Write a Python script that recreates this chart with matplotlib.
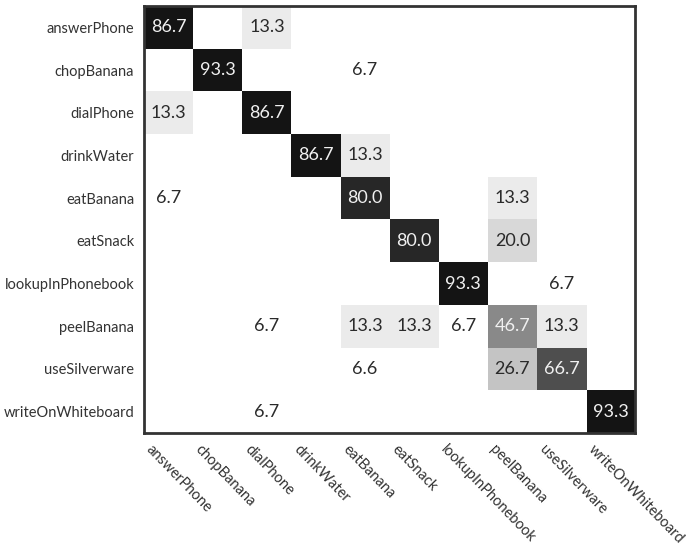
import numpy as np
import matplotlib.pyplot as plt
from matplotlib.colors import Normalize, LinearSegmentedColormap
from matplotlib.transforms import ScaledTranslation

# Activity classes (rows = true, columns = predicted)
classes = ['answerPhone', 'chopBanana', 'dialPhone', 'drinkWater', 'eatBanana',
           'eatSnack', 'lookupInPhonebook', 'peelBanana', 'useSilverware',
           'writeOnWhiteboard']

# Per-class recognition rates in percent, one list per true class
answer_phone = [86.7, 0, 13.3, 0, 0, 0, 0, 0, 0, 0]
chop_banana = [0, 93.3, 0, 0, 6.7, 0, 0, 0, 0, 0]
dial_phone = [13.3, 0, 86.7, 0, 0, 0, 0, 0, 0, 0]
drink_water = [0, 0, 0, 86.7, 13.3, 0, 0, 0, 0, 0]
eat_banana = [6.7, 0, 0, 0, 80.0, 0, 0, 13.3, 0, 0]
eat_snack = [0, 0, 0, 0, 0, 80.0, 0, 20.0, 0, 0]
lookup_phonebook = [0, 0, 0, 0, 0, 0, 93.3, 0, 6.7, 0]
peel_banana = [0, 0, 6.7, 0, 13.3, 13.3, 6.7, 46.7, 13.3, 0]
use_silverware = [0, 0, 0, 0, 6.6, 0, 0, 26.7, 66.7, 0]
write_whiteboard = [0, 0, 6.7, 0, 0, 0, 0, 0, 0, 93.3]

conf = np.array([answer_phone, chop_banana, dial_phone, drink_water, eat_banana,
                 eat_snack, lookup_phonebook, peel_banana, use_silverware,
                 write_whiteboard])

plt.rcParams['font.family'] = ['Lato', 'DejaVu Sans']

fig = plt.figure(figsize=(6.86, 5.46), dpi=100)
ax = fig.add_axes([0.210, 0.207, 0.716, 0.782])

# light cells (<= 6.7) stay white, the rest shade linearly towards near-black
cmap = LinearSegmentedColormap.from_list('cm_gray', ['white', '#141414'])
norm = Normalize(vmin=6.7, vmax=86.7, clip=True)
ax.imshow(conf, cmap=cmap, norm=norm, aspect='auto', interpolation='nearest')

n = len(classes)
for i in range(n):
    for j in range(n):
        v = conf[i, j]
        if v <= 0:
            continue
        color = '#f0f0f0' if v >= 40 else '#2a2a2a'
        ax.text(j, i, f'{v:.1f}', ha='center', va='center', fontsize=13,
                color=color)

ax.set_xticks(range(n))
ax.set_yticks(range(n))
ax.set_yticklabels(classes, fontsize=10.5, color='#333333')
ax.set_xticklabels(classes, fontsize=10.5, color='#333333', rotation=-46,
                   ha='left', va='top', rotation_mode='anchor')
ax.tick_params(length=0)
ax.tick_params(axis='y', pad=7)
ax.tick_params(axis='x', pad=7)

# shift rotated labels a bit left of the cell centres
shift = ScaledTranslation(-0.15, 0, fig.dpi_scale_trans)
for lbl in ax.get_xticklabels():
    lbl.set_transform(lbl.get_transform() + shift)

for spine in ax.spines.values():
    spine.set_linewidth(2)
    spine.set_color('#333333')

fig.savefig('out.png', dpi=100)
